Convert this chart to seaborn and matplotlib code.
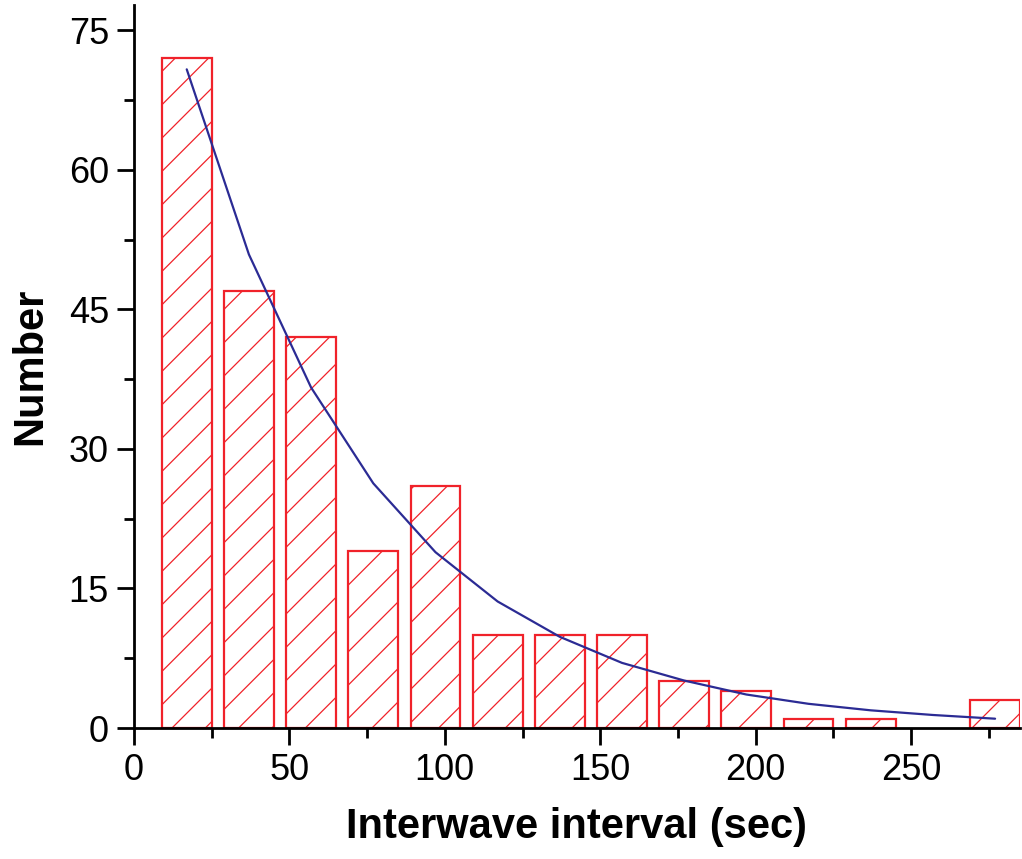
import matplotlib
matplotlib.use("Agg")
import matplotlib.pyplot as plt
import seaborn as sns
import pandas as pd
from matplotlib.ticker import MultipleLocator

sns.set_style("ticks")
plt.rcParams['font.family'] = ['Liberation Sans', 'DejaVu Sans']
plt.rcParams['hatch.linewidth'] = 0.9

# Data
bin_centers = [17, 37, 57, 77, 97, 117, 137, 157, 177, 197, 217, 237, 277]
counts = [72, 47, 42, 19, 26, 10, 10, 10, 5, 4, 1, 1, 3]
fit_x = [17, 37, 57, 77, 97, 117, 137, 157, 177, 197, 217, 237, 257, 277]
fit_y = [70.8, 50.9, 36.6, 26.3, 18.9, 13.6, 9.8, 7.0, 5.1, 3.6, 2.6, 1.9, 1.4, 1.0]

df_bars = pd.DataFrame({"x": bin_centers, "n": counts})
df_fit = pd.DataFrame({"x": fit_x, "y": fit_y})

fig = plt.figure(figsize=(10.22, 8.59), dpi=100)
ax = fig.add_axes([0.131, 0.1525, 0.867, 0.8415])

red = "#f0222a"
sns.barplot(data=df_bars, x="x", y="n", native_scale=True, width=0.8,
            facecolor="white", edgecolor=red, linewidth=1.6, hatch="/", ax=ax)
sns.lineplot(data=df_fit, x="x", y="y", color="#2b2b94", linewidth=1.6, ax=ax)

ax.set_xlim(0, 285)
ax.set_ylim(0, 77.7)
ax.xaxis.set_major_locator(MultipleLocator(50))
ax.xaxis.set_minor_locator(MultipleLocator(25))
ax.yaxis.set_major_locator(MultipleLocator(15))
ax.yaxis.set_minor_locator(MultipleLocator(7.5))
ax.tick_params(which="major", direction="out", length=12, width=2, labelsize=26,
               colors="black", pad=6)
ax.tick_params(which="minor", direction="out", length=7, width=2, colors="black")
for s in ["left", "bottom"]:
    ax.spines[s].set_linewidth(2)
    ax.spines[s].set_color("black")
sns.despine(ax=ax)
ax.set_xlabel("Interwave interval (sec)", fontsize=30, fontweight="bold",
              labelpad=14, color="black")
ax.set_ylabel("Number", fontsize=30, fontweight="bold", labelpad=13, color="black")

fig.savefig("out.png", dpi=100)
